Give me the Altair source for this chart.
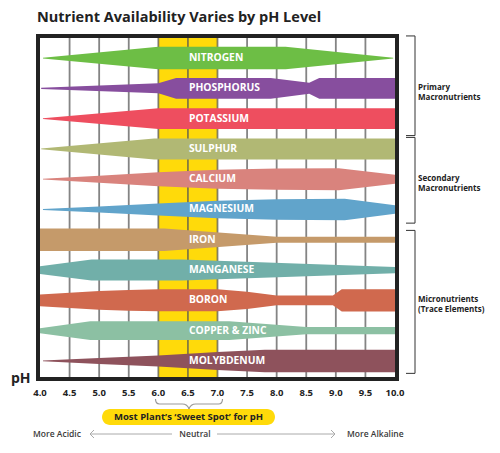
import altair as alt
import pandas as pd

# ---------------- data ----------------
nutrients = ["NITROGEN", "PHOSPHORUS", "POTASSIUM", "SULPHUR", "CALCIUM", "MAGNESIUM",
             "IRON", "MANGANESE", "BORON", "COPPER & ZINC", "MOLYBDENUM"]
colors = ["#6DBE45", "#874E9E", "#EE4E5F", "#B1B874", "#D9837D", "#61A4CB",
          "#C59A6A", "#71AFA9", "#D0694E", "#8CC0A3", "#8E525C"]

# pH break points and relative availability (band half-thickness) for each nutrient
ph_points = [
    [4.05, 6.0, 8.15, 9.97],
    [4.02, 6.0, 6.3, 7.9, 8.55, 8.72, 10.0],
    [4.05, 6.0, 10.0],
    [4.02, 5.93, 10.0],
    [4.05, 5.0, 6.0, 7.0, 8.0, 9.05, 10.0],
    [4.05, 5.0, 6.0, 7.0, 8.0, 9.15, 10.0],
    [4.0, 6.1, 8.0, 10.0],
    [4.0, 4.87, 6.4, 10.0],
    [4.0, 4.5, 5.0, 5.5, 6.0, 7.0, 7.5, 8.0, 8.95, 9.1, 10.0],
    [4.0, 4.85, 7.2, 8.5, 10.0],
    [4.05, 5.0, 6.0, 7.0, 7.8, 10.0],
]
availability = [
    [0.4, 11.2, 11.2, 0.4],
    [0.6, 5.0, 10.4, 10.4, 5.5, 10.4, 10.4],
    [0.4, 10.3, 10.3],
    [0.4, 10.5, 10.5],
    [0.4, 3.5, 7.0, 9.5, 10.6, 11.0, 4.5],
    [0.4, 3.0, 6.0, 8.7, 10.2, 10.7, 4.2],
    [11.3, 11.3, 3.0, 3.0],
    [3.8, 10.5, 10.5, 3.2],
    [5.8, 7.7, 9.3, 10.3, 11.0, 11.0, 8.7, 4.8, 4.8, 11.2, 11.2],
    [2.5, 9.3, 9.3, 3.6, 3.6],
    [0.4, 3.0, 5.5, 9.0, 11.2, 11.2],
]
grid_ph = [4.5, 5.0, 5.5, 6.0, 6.5, 7.0, 7.5, 8.0, 8.5, 9.0, 9.5]
tick_ph = [4.0, 4.5, 5.0, 5.5, 6.0, 6.5, 7.0, 7.5, 8.0, 8.5, 9.0, 9.5, 10.0]
tick_labels = ["4.0", "4.5", "5.0", "5.5", "6.0", "6.5", "7.0", "7.5", "8.0", "8.5", "9.0", "9.5", "10.0"]
sweet_spot = [6.0, 7.0]

group_labels = ["Primary\nMacronutrients", "Secondary\nMacronutrients", "Micronutrients\n(Trace Elements)"]
group_top = [-0.73, 2.62, 5.69]
group_bottom = [2.56, 5.45, 10.41]
group_mid = [1, 4, 8]

TITLE = "Nutrient Availability Varies by pH Level"
FONT = "Open Sans"
W, H = 355, 339
UNITS_PER_ROW = 30.29

# ---------------- tables ----------------
band_rows = []
for i, (name, phs, ws) in enumerate(zip(nutrients, ph_points, availability)):
    for p, w in zip(phs, ws):
        band_rows.append({"nutrient": name, "ph": p,
                          "lo": i - w / UNITS_PER_ROW, "hi": i + w / UNITS_PER_ROW})
bands_df = pd.DataFrame(band_rows)
labels_df = pd.DataFrame({"nutrient": nutrients, "row": list(range(len(nutrients)))})
grid_df = pd.DataFrame({"ph": grid_ph})
ticks_df = pd.DataFrame({"tph": tick_ph, "tlabel": tick_labels})
sweet_df = pd.DataFrame({"a": [sweet_spot[0]], "b": [sweet_spot[1]]})
groups_df = pd.DataFrame({"label": group_labels, "top": group_top,
                          "bottom": group_bottom, "mid": group_mid})
one = pd.DataFrame({"k": [0]})

xs = alt.Scale(domain=[4, 10], nice=False, zero=False)
ys = alt.Scale(domain=[-0.662, 10.53], reverse=True, nice=False, zero=False)

hidden_axis = alt.Axis(labels=False, domain=False, ticks=False, grid=False, title=None)

sweet = alt.Chart(sweet_df).mark_rect(color="#FFDA0A").encode(
    x=alt.X("a:Q", scale=xs, axis=hidden_axis), x2="b:Q")

grid = alt.Chart(grid_df).mark_rule(color="#555", opacity=0.72, strokeWidth=1.8).encode(
    x=alt.X("ph:Q", scale=xs, axis=None))

bands = alt.Chart(bands_df).mark_area(interpolate="linear").encode(
    x=alt.X("ph:Q", scale=xs, axis=None),
    y=alt.Y("lo:Q", scale=ys, axis=None, stack=None),
    y2="hi:Q",
    color=alt.Color("nutrient:N", scale=alt.Scale(domain=nutrients, range=colors), legend=None),
)

band_text = alt.Chart(labels_df).mark_text(
    align="left", baseline="middle", font=FONT, fontWeight="bold", fontSize=10.3,
    color="white", dx=1).encode(
    x=alt.datum(6.5, scale=xs), y=alt.Y("row:Q", scale=ys, axis=None), text="nutrient:N")

tick_text = alt.Chart(ticks_df).mark_text(
    align="center", baseline="middle", font=FONT, fontWeight="bold", fontSize=9.5,
    color="#222", y=355).encode(
    x=alt.X("tph:Q", scale=xs, axis=None), text=alt.Text("tlabel:N"))

frame = alt.Chart(one).mark_rect(fillOpacity=0, stroke="#222", strokeWidth=4).encode(
    x=alt.value(-2), x2=alt.value(W + 2), y=alt.value(-2), y2=alt.value(H + 2))

br_line = alt.Chart(groups_df).mark_rule(color="#333", strokeWidth=1).encode(
    x=alt.value(W + 20), y=alt.Y("top:Q", scale=ys, axis=None), y2="bottom:Q")
br_top = alt.Chart(groups_df).mark_rule(color="#333", strokeWidth=1).encode(
    x=alt.value(W + 11), x2=alt.value(W + 20), y=alt.Y("top:Q", scale=ys, axis=None))
br_bot = alt.Chart(groups_df).mark_rule(color="#333", strokeWidth=1).encode(
    x=alt.value(W + 11), x2=alt.value(W + 20), y=alt.Y("bottom:Q", scale=ys, axis=None))
br_text = alt.Chart(groups_df).mark_text(
    align="left", baseline="middle", font=FONT, fontWeight="bold", fontSize=8,
    color="#222", lineBreak="\n", lineHeight=10).encode(
    x=alt.value(W + 23), y=alt.Y("mid:Q", scale=ys, axis=None), text="label:N")

title = alt.Chart(one).mark_text(
    text=TITLE, align="left", baseline="middle", font=FONT, fontWeight="bold",
    fontSize=14.5, color="#222").encode(x=alt.value(-3), y=alt.value(-20))

ph_lbl = alt.Chart(one).mark_text(
    text="pH", align="left", baseline="alphabetic", font=FONT, fontWeight="bold",
    fontSize=14, color="#222").encode(x=alt.value(-29), y=alt.value(345))

brace = alt.Chart(one).mark_point(
    shape="M-1,-0.15 Q-1,0 -0.88,0 L-0.2,0 Q-0.05,0 0,0.15 Q0.05,0 0.2,0 L0.88,0 Q1,0 1,-0.15",
    filled=False, size=67 * 67, color="#999", strokeWidth=1.2, opacity=1).encode(
    x=alt.value(149), y=alt.value(366))

pill = alt.Chart(one).mark_rect(color="#FFDA0A", cornerRadius=8).encode(
    x=alt.value(62), x2=alt.value(235), y=alt.value(371), y2=alt.value(387))
pill_text = alt.Chart(one).mark_text(
    text="Most Plant\u2019s \u2018Sweet Spot\u2019 for pH", align="center", baseline="middle",
    font=FONT, fontWeight="bold", fontSize=9.5, color="#222").encode(
    x=alt.value(148.5), y=alt.value(379))

bottom_texts = []
for txt, xx, al in [("More Acidic", -7, "left"), ("Neutral", 155, "center"),
                    ("More Alkaline", 307, "left")]:
    bottom_texts.append(alt.Chart(one).mark_text(
        text=txt, align=al, baseline="middle", font=FONT, fontWeight=600, fontSize=8.5,
        color="#3a3a3a").encode(x=alt.value(xx), y=alt.value(396)))

shaft_l = alt.Chart(one).mark_rule(color="#aaa", strokeWidth=1).encode(
    x=alt.value(50), x2=alt.value(132), y=alt.value(396))
shaft_r = alt.Chart(one).mark_rule(color="#aaa", strokeWidth=1).encode(
    x=alt.value(177), x2=alt.value(295), y=alt.value(396))
head_l = alt.Chart(one).mark_point(shape="M0.5,-1L-0.5,0L0.5,1", filled=False, size=64,
                                   color="#aaa", strokeWidth=1, opacity=1).encode(
    x=alt.value(52), y=alt.value(396))
head_r = alt.Chart(one).mark_point(shape="M-0.5,-1L0.5,0L-0.5,1", filled=False, size=64,
                                   color="#aaa", strokeWidth=1, opacity=1).encode(
    x=alt.value(293), y=alt.value(396))

chart = alt.layer(
    sweet, grid, bands, band_text, tick_text, frame, br_line, br_top, br_bot, br_text,
    title, ph_lbl, brace, pill, pill_text, *bottom_texts, shaft_l, shaft_r, head_l, head_r
).properties(
    width=W, height=H,
    autosize=alt.AutoSizeParams(type="none"),
    padding={"left": 32, "top": 30, "right": 97, "bottom": 68},
    background="white",
).configure_view(stroke=None)

chart.save("out.html", embed_options={"renderer": "svg", "actions": False})
